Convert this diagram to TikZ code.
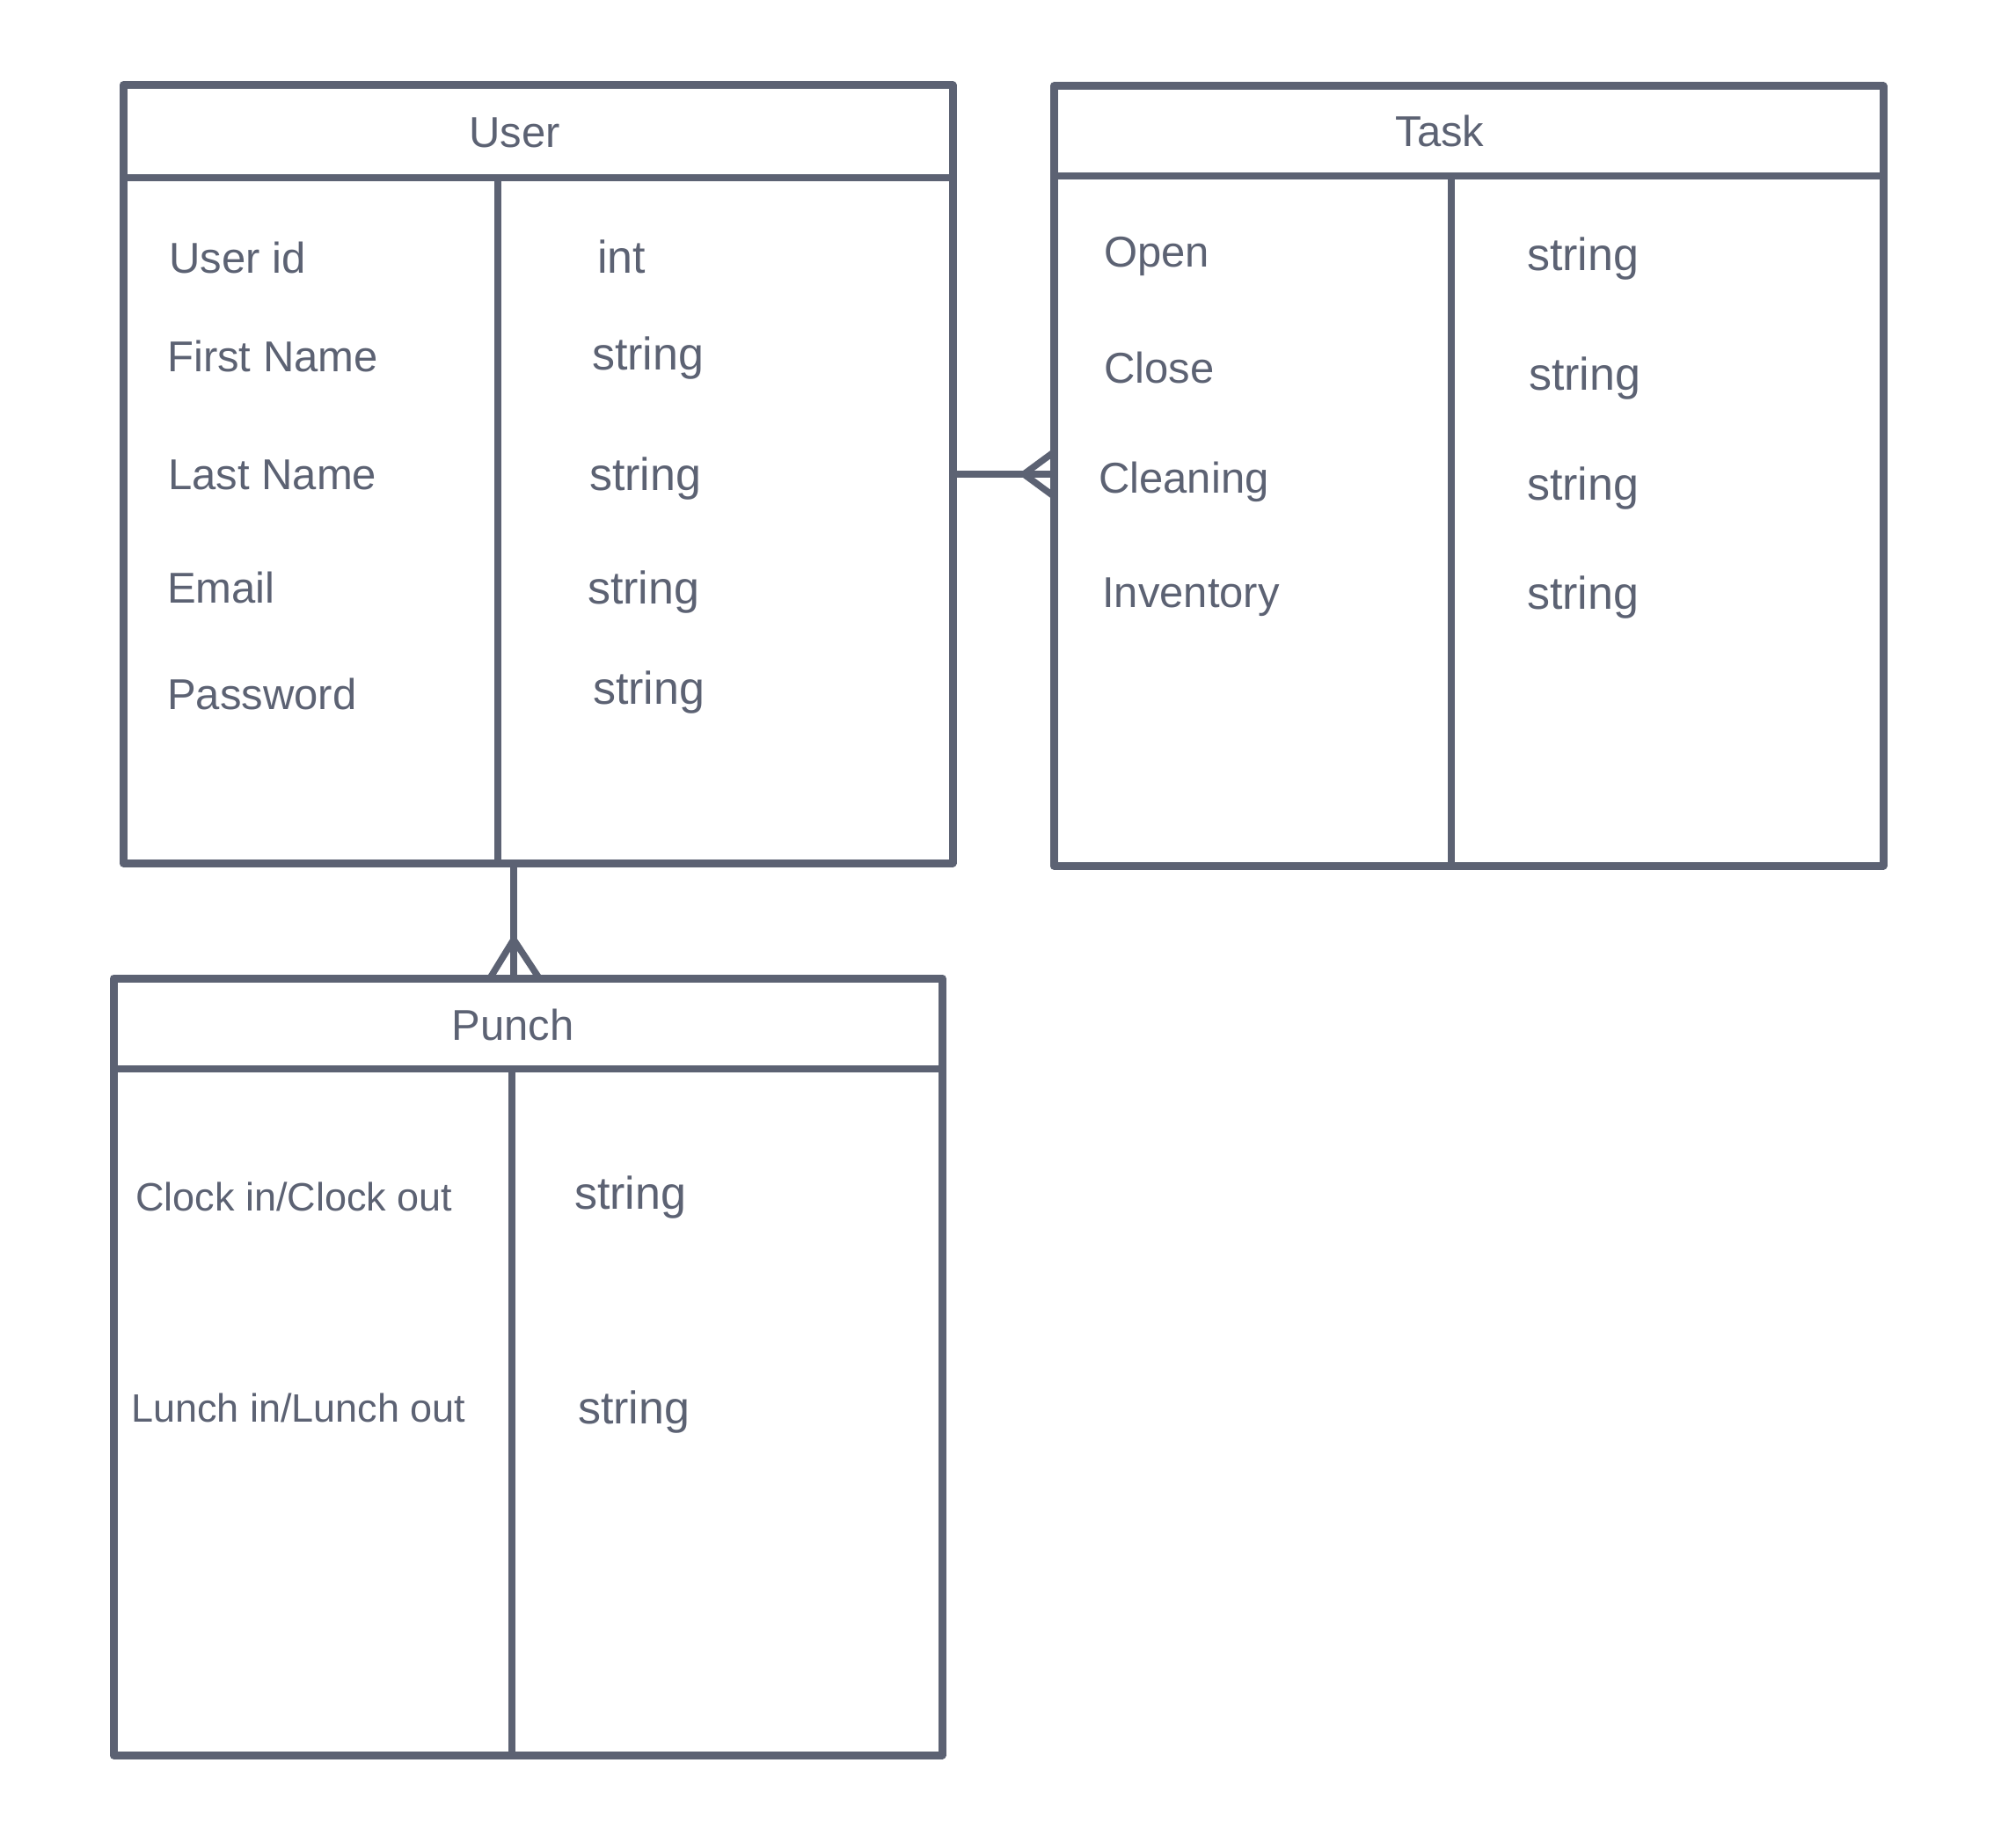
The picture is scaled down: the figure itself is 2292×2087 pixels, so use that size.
\documentclass[tikz,border=0pt]{standalone}
\usepackage{fontspec}
\setmainfont{Liberation Sans}
\usetikzlibrary{calc}
\definecolor{ink}{HTML}{5C6273}
\begin{document}
\begin{tikzpicture}[x=1pt,y=-1pt,
  entity/.style={draw=ink, line width=9pt, line join=round, rectangle, outer sep=0pt, inner sep=0pt},
  rule/.style={draw=ink, line width=7.5pt},
  conn/.style={draw=ink, line width=7.5pt},
  lbl/.style={anchor=base west, inner sep=0pt, text=ink, font=\fontsize{49}{58}\selectfont},
  typ/.style={anchor=base west, inner sep=0pt, text=ink, font=\fontsize{52}{60}\selectfont},
  small/.style={anchor=base west, inner sep=0pt, text=ink, font=\fontsize{45}{54}\selectfont},
  head/.style={anchor=base, inner sep=0pt, text=ink, font=\fontsize{49}{58}\selectfont}]
\useasboundingbox[fill=white] (0,0) rectangle (2292,2087);

% entity boxes
\node[entity, minimum width=943pt, minimum height=884pt] (user) at (611.5,539) {};
\node[entity, minimum width=943pt, minimum height=886pt] (task) at (1669.5,541) {};
\node[entity, minimum width=942pt, minimum height=883pt] (punch) at (600,1553.5) {};

% header rules
\draw[rule] ([yshift=-105pt]user.north west) -- ([yshift=-105pt]user.north east);
\draw[rule] ([yshift=-102pt]task.north west) -- ([yshift=-102pt]task.north east);
\draw[rule] ([yshift=-103pt]punch.north west) -- ([yshift=-103pt]punch.north east);

% column dividers
\draw[rule] (566,202) -- (user.south -| 566,0);
\draw[rule] (1650,200) -- (task.south -| 1650,0);
\draw[rule] (582,1215) -- (punch.south -| 582,0);

% headers
\node[head] (userh) at (585,168) {User};
\node[head] (taskh) at (1637,167) {Task};
\node[head] (punchh) at (583,1182) {Punch};

% User rows
\node[lbl] (u1) at (192,310) {User id};
\node[lbl] (u2) at (190,422) {First Name};
\node[lbl] (u3) at (191,556) {Last Name};
\node[lbl] (u4) at (190,685) {Email};
\node[lbl] (u5) at (190,806) {Password};
\node[typ] (ut1) at (679,310) {int};
\node[typ] (ut2) at (673,420) {string};
\node[typ] (ut3) at (670,557) {string};
\node[typ] (ut4) at (668,686) {string};
\node[typ] (ut5) at (674,800) {string};

% Task rows
\node[lbl] (t1) at (1255,303) {Open};
\node[lbl] (t2) at (1255,435) {Close};
\node[lbl] (t3) at (1249,560) {Cleaning};
\node[lbl] (t4) at (1253,690) {Inventory};
\node[typ] (tt1) at (1736,307) {string};
\node[typ] (tt2) at (1738,443) {string};
\node[typ] (tt3) at (1736,568) {string};
\node[typ] (tt4) at (1736,692) {string};

% Punch rows
\node[small] (p1) at (154,1376) {Clock in/Clock out};
\node[small] (p2) at (149,1616) {Lunch in/Lunch out};
\node[typ] (pt1) at (653,1374) {string};
\node[typ] (pt2) at (657,1618) {string};

% connectors with crow's feet
\coordinate (ta) at (user.east -| task.west);
\draw[conn] (user.east) -- (ta);
\draw[conn, line join=round] ($(ta)+(0,-25)$) -- ($(ta)+(-34,0)$) -- ($(ta)+(0,25)$);

\coordinate (pa) at (punch.north -| 584,0);
\coordinate (ua) at (user.south -| 584,0);
\draw[conn] (ua) -- (pa);
\draw[conn, line join=round] ($(pa)+(-27,0)$) -- ($(pa)+(0,-44)$) -- ($(pa)+(29,0)$);
\end{tikzpicture}
\end{document}
